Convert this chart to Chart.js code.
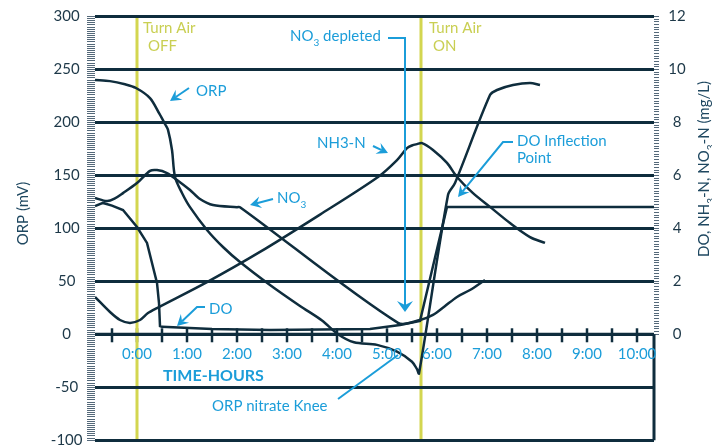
<!DOCTYPE html>
<html>
<head>
<meta charset="utf-8">
<title>ORP, DO, NH3-N and NO3-N during an air-off cycle</title>
<script src="https://cdn.jsdelivr.net/npm/chart.js@4.4.1/dist/chart.umd.min.js"></script>
<style>
  html, body { margin: 0; padding: 0; background: #fff; }
  #wrap { width: 712px; height: 447px; }
</style>
</head>
<body>
<div id="wrap"><canvas id="orpChart" width="712" height="447"></canvas></div>
<script>
// time axis (hours after the air was turned off)
const xTickHours = [0, 1, 2, 3, 4, 5, 6, 7, 8, 9, 10];
const xTickLabels = ['0:00', '1:00', '2:00', '3:00', '4:00', '5:00', '6:00', '7:00', '8:00', '9:00', '10:00'];
const airOffHour = 0;
const airOnHour = 5.68;

// ORP, mV (left axis)
const orpHours = [-0.84, -0.54, -0.24, -0.02, 0.26, 0.45, 0.56, 0.62, 0.7, 0.76, 0.9, 1.06, 1.4, 1.72, 2.06, 2.66, 3.26, 3.7, 4.02, 4.34, 4.8, 5.2, 5.5, 5.6, 5.64, 6.22, 6.36, 7.06, 7.2, 7.52, 7.86, 8.06];
const orpValues = [240, 239, 236, 232.5, 223, 208, 198.5, 193, 174, 148.5, 133.4, 120, 98.5, 82.4, 68.2, 46.5, 26.7, 13, 0, -7.6, -10, -16.4, -25.9, -33, -37, 131.5, 142.8, 225.8, 230.6, 235.3, 237.2, 235.3];

// NO3-N, mg/L (right axis)
const no3Hours = [-0.84, -0.6, -0.45, -0.28, 0, 0.26, 0.4, 0.6, 0.8, 1.06, 1.26, 1.52, 2.0, 2.06, 5.22, 5.66, 5.92, 6.15, 6.4, 6.66, 6.96];
const no3Values = [5.15, 5.03, 5.12, 5.33, 5.71, 6.17, 6.2, 6.09, 5.83, 5.45, 5.11, 4.88, 4.8, 4.8, 0.43, 0.54, 0.73, 1.05, 1.41, 1.67, 2.05];

// DO, mg/L (right axis)
const doHours = [-0.84, -0.68, -0.5, -0.28, 0, 0.2, 0.3, 0.4, 0.44, 0.46, 0.5, 1.5, 2.66, 4.66, 5.26, 5.66, 6.2, 10.34];
const doValues = [4.84, 4.96, 4.86, 4.69, 4.05, 3.45, 2.69, 1.94, 1.18, 0.31, 0.28, 0.2, 0.16, 0.2, 0.35, 0.5, 4.81, 4.81];

// NH3-N, mg/L (right axis)
const nh3Hours = [-0.84, -0.54, -0.34, -0.14, 0.06, 0.22, 0.4, 1.4, 2.46, 3.66, 4.82, 5.2, 5.4, 5.5, 5.6, 5.7, 5.92, 6.2, 6.4, 6.72, 7.06, 7.46, 7.86, 8.16];
const nh3Values = [1.41, 0.84, 0.54, 0.43, 0.54, 0.8, 0.99, 1.97, 3.11, 4.52, 5.94, 6.58, 7.03, 7.13, 7.18, 7.22, 6.96, 6.47, 5.94, 5.33, 4.81, 4.2, 3.67, 3.45];

const NAVY = '#0f2d3d';
const AXIS_TEXT = '#1d3848';
const TITLE_TEXT = '#1e4760';
const BLUE = '#1b9dd9';
const YELLOW = '#d3d650';
const YELLOW_TEXT = '#c9cf52';
const FONT = 'Lato, "Open Sans", sans-serif';

function pts(xs, ys) {
    return xs.map((x, i) => ({ x: x, y: ys[i] }));
}

// text with optional subscript parts: [[text, isSub], ...]
function rich(ctx, parts, x, y, align) {
    const main = '15px ' + FONT, sub = '10px ' + FONT;
    let w = 0;
    parts.forEach(p => { ctx.font = p[1] ? sub : main; w += ctx.measureText(p[0]).width; });
    let cx = align === 'center' ? x - w / 2 : x;
    ctx.textAlign = 'left';
    ctx.textBaseline = 'alphabetic';
    parts.forEach(p => {
        ctx.font = p[1] ? sub : main;
        ctx.fillText(p[0], cx, p[1] ? y + 4.5 : y);
        cx += ctx.measureText(p[0]).width;
    });
}

// polyline, with a filled head at the last point when head is given
function arrow(ctx, line, head) {
    const n = line.length;
    let end = line[n - 1];
    let ux = 0, uy = 0;
    if (head) {
        const [px, py] = line[n - 2];
        const d = Math.hypot(end[0] - px, end[1] - py);
        ux = (end[0] - px) / d; uy = (end[1] - py) / d;
    }
    ctx.beginPath();
    ctx.moveTo(line[0][0], line[0][1]);
    for (let i = 1; i < n - 1; i++) ctx.lineTo(line[i][0], line[i][1]);
    if (head) ctx.lineTo(end[0] - ux * (head.len - 4), end[1] - uy * (head.len - 4));
    else ctx.lineTo(end[0], end[1]);
    ctx.stroke();
    if (!head) return;
    const bx = end[0] - ux * head.len, by = end[1] - uy * head.len;
    const nx = -uy * head.w, ny = ux * head.w;
    ctx.beginPath();
    ctx.moveTo(end[0], end[1]);
    ctx.lineTo(bx + nx, by + ny);
    ctx.lineTo(end[0] - ux * (head.len - 4), end[1] - uy * (head.len - 4));
    ctx.lineTo(bx - nx, by - ny);
    ctx.closePath();
    ctx.fill();
}

const overlay = {
    id: 'overlay',
    beforeDraw(chart) {
        const { ctx, chartArea: a, scales: { x, y } } = chart;
        const y0 = y.getPixelForValue(0);
        ctx.save();
        // half-hour tick crosses on the time axis
        ctx.strokeStyle = NAVY;
        ctx.lineWidth = 2.5;
        for (let i = -1; i <= 20; i++) {
            const px = x.getPixelForValue(i / 2);
            ctx.beginPath();
            ctx.moveTo(px, y0 - 6);
            ctx.lineTo(px, y0 + 8);
            ctx.stroke();
        }
        // air off / air on markers
        ctx.strokeStyle = YELLOW;
        ctx.lineWidth = 3;
        [airOffHour, airOnHour].forEach(h => {
            const px = x.getPixelForValue(h);
            ctx.beginPath();
            ctx.moveTo(px, a.top);
            ctx.lineTo(px, a.bottom);
            ctx.stroke();
        });
        ctx.restore();
    },
    afterDraw(chart) {
        const { ctx, chartArea: a, scales: { x, y } } = chart;
        const y0 = y.getPixelForValue(0);
        ctx.save();

        // time axis line and right edge below zero
        ctx.strokeStyle = NAVY;
        ctx.lineWidth = 3;
        ctx.beginPath();
        ctx.moveTo(a.left, y0);
        ctx.lineTo(a.right, y0);
        ctx.moveTo(a.right, y0);
        ctx.lineTo(a.right, a.bottom);
        ctx.stroke();

        // time labels
        ctx.fillStyle = BLUE;
        ctx.font = '15px ' + FONT;
        ctx.textAlign = 'center';
        ctx.textBaseline = 'alphabetic';
        xTickHours.forEach((h, i) => ctx.fillText(xTickLabels[i], x.getPixelForValue(h), y0 + 25));
        ctx.font = 'bold 16px ' + FONT;
        ctx.textAlign = 'left';
        ctx.fillText('TIME-HOURS', 163, 381);

        // air markers text
        ctx.fillStyle = YELLOW_TEXT;
        ctx.font = '15px ' + FONT;
        ctx.fillText('Turn Air', 143, 33);
        ctx.fillText('OFF', 148, 51);
        ctx.fillText('Turn Air', 429, 33);
        ctx.fillText('ON', 433, 51);

        // callouts
        ctx.fillStyle = BLUE;
        ctx.strokeStyle = BLUE;
        ctx.lineWidth = 2;
        rich(ctx, [['ORP']], 196, 96);
        arrow(ctx, [[189, 88], [170, 101]], { len: 11, w: 6 });

        rich(ctx, [['NO'], ['3', true], [' depleted']], 290, 41);
        arrow(ctx, [[388, 38], [405, 38], [405, 312]], { len: 11, w: 8 });

        rich(ctx, [['NH3-N']], 317, 148);
        arrow(ctx, [[373, 146], [388, 153]], { len: 11, w: 6 });

        rich(ctx, [['NO'], ['3', true]], 277, 203);
        arrow(ctx, [[273, 199], [250, 205]], { len: 11, w: 6 });

        rich(ctx, [['DO']], 209, 314);
        arrow(ctx, [[205, 307], [197, 307], [177, 326]], { len: 11, w: 6 });

        rich(ctx, [['DO Inflection']], 517, 146);
        rich(ctx, [['Point']], 517, 163);
        arrow(ctx, [[513, 142], [503, 142], [458, 197]], { len: 11, w: 6 });

        rich(ctx, [['ORP nitrate Knee']], 212, 411);
        arrow(ctx, [[338, 399], [398, 355]], null);

        // axis titles
        ctx.fillStyle = TITLE_TEXT;
        ctx.save();
        ctx.translate(22.6, 213.5);
        ctx.rotate(-Math.PI / 2);
        rich(ctx, [['ORP (mV)']], 0, 5.4, 'center');
        ctx.restore();
        ctx.save();
        ctx.translate(704, 169);
        ctx.rotate(-Math.PI / 2);
        rich(ctx, [['DO, NH'], ['3', true], ['-N, NO'], ['3', true], ['-N (mg/L)']], 0, 5.4, 'center');
        ctx.restore();

        ctx.restore();
    }
};

const isMajor = c => c.tick && c.tick.value % 50 === 0;

const ctx = document.getElementById('orpChart').getContext('2d');
const orpChart = new Chart(ctx, {
    type: 'line',
    data: {
        datasets: [
            { label: 'ORP', data: pts(orpHours, orpValues), yAxisID: 'y', tension: 0.3 },
            { label: 'NO3-N', data: pts(no3Hours, no3Values), yAxisID: 'y2', tension: 0.3 },
            { label: 'DO', data: pts(doHours, doValues), yAxisID: 'y2', tension: 0 },
            { label: 'NH3-N', data: pts(nh3Hours, nh3Values), yAxisID: 'y2', tension: 0.3 }
        ]
    },
    options: {
        responsive: false,
        animation: false,
        layout: { padding: { top: 16.5, bottom: 6.8, left: 0, right: 0 } },
        elements: {
            line: { borderColor: NAVY, borderWidth: 2.5, fill: false },
            point: { radius: 0, hoverRadius: 0 }
        },
        plugins: {
            legend: { display: false },
            tooltip: { enabled: false }
        },
        scales: {
            x: { type: 'linear', min: -0.84, max: 10.34, display: false },
            y: {
                position: 'left',
                min: -100,
                max: 300,
                afterFit(s) { s.width = 95; s.paddingTop = 0; s.paddingBottom = 0; },
                border: { display: false },
                grid: {
                    color: c => isMajor(c) ? NAVY : 'rgba(0,0,0,0)',
                    lineWidth: c => isMajor(c) ? 3 : 1,
                    tickColor: '#55697a',
                    tickWidth: 1,
                    tickLength: 8
                },
                ticks: {
                    stepSize: 2,
                    autoSkip: false,
                    crossAlign: 'center',
                    padding: 4.5,
                    color: AXIS_TEXT,
                    font: { family: FONT, size: 15 },
                    callback: v => v % 50 === 0 ? String(v) : ''
                }
            },
            y2: {
                position: 'right',
                min: -4,
                max: 12,
                afterFit(s) { s.width = 58; s.paddingTop = 0; s.paddingBottom = 0; },
                border: { display: false },
                grid: {
                    drawOnChartArea: false,
                    tickColor: '#55697a',
                    tickWidth: 1,
                    tickLength: 5
                },
                ticks: {
                    stepSize: 0.1,
                    autoSkip: false,
                    crossAlign: 'center',
                    padding: 9.3,
                    color: AXIS_TEXT,
                    font: { family: FONT, size: 15 },
                    callback: v => {
                        const t = Math.round(v * 10);
                        if (t < 0) return null;
                        return t % 20 === 0 ? String(t / 10) : '';
                    }
                }
            }
        }
    },
    plugins: [overlay]
});
</script>
</body>
</html>
